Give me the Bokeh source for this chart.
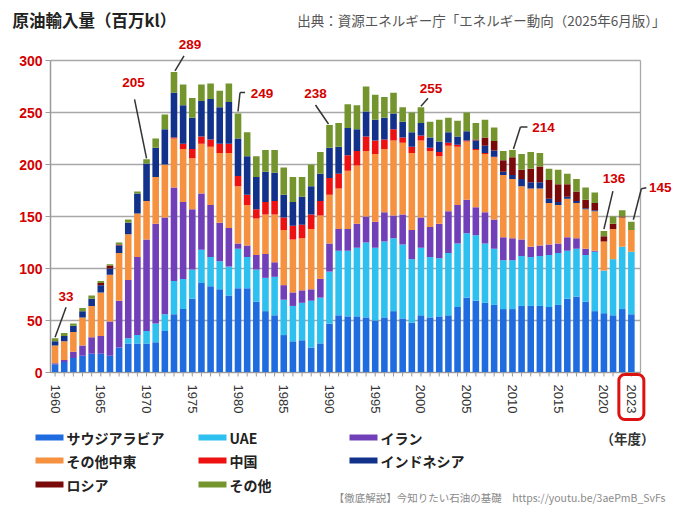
import math
from bokeh.plotting import figure
from bokeh.models import Range1d, Label, Arrow, BoxAnnotation, ColumnDataSource
from bokeh.core.properties import value
from bokeh.embed import file_html
from bokeh.resources import INLINE

# ---------------- data ----------------
years = list(range(1960, 2024))

saudi = [8, 10, 14, 16, 18, 18, 16, 24, 28, 28,
         28, 29, 40, 56, 61, 71, 86, 83, 80, 74,
         81, 81, 68, 59, 55, 36, 30, 31, 24, 28,
         47, 55, 54, 54, 53, 50, 53, 59, 52, 48,
         55, 53, 54, 55, 63, 72, 69, 67, 65, 61,
         61, 64, 64, 64, 63, 65, 71, 73, 68, 59,
         57, 55, 61, 56]
uae = [0, 0, 0, 0, 0, 0, 0, 0, 5, 8,
       12, 18, 16, 32, 29, 28, 32, 28, 27, 28,
       38, 30, 31, 32, 37, 34, 34, 36, 45, 44,
       50, 62, 63, 66, 72, 70, 73, 70, 71, 61,
       65, 58, 56, 60, 61, 62, 63, 57, 54, 47,
       47, 48, 47, 48, 50, 50, 46, 46, 45, 57,
       41, 54, 60, 60]
iran = [1, 2, 6, 10, 16, 17, 33, 45, 56, 75,
        88, 96, 93, 90, 74, 58, 54, 50, 37, 37,
        5, 11, 14, 23, 14, 14, 13, 12, 11, 18,
        27, 21, 21, 23, 25, 25, 28, 22, 29, 28,
        29, 29, 33, 40, 37, 32, 27, 30, 28, 22,
        21, 16, 10, 10, 10, 9, 13, 10, 6, 1,
        0, 0, 0, 0]
other_me = [17, 18, 19, 27, 30, 42, 45, 46, 44, 42,
            37, 45, 51, 47, 51, 49, 48, 56, 67, 72,
            55, 39, 35, 38, 46, 53, 51, 50, 58, 61,
            47, 39, 56, 56, 63, 65, 61, 72, 69, 74,
            74, 73, 65, 63, 56, 56, 55, 56, 60, 60,
            57, 51, 56, 55, 40, 37, 37, 34, 38, 38,
            28, 29, 28, 21]
china = [0, 0, 0, 0, 0, 0, 0, 0, 0, 0,
         0, 0, 0, 1, 5, 9, 7, 7, 9, 9,
         10, 10, 9, 12, 13, 12, 13, 13, 14, 14,
         16, 14, 15, 14, 14, 13, 9, 11, 5, 6,
         5, 3, 4, 3, 2, 1, 1, 1, 0.5, 0,
         0, 0, 0, 0, 0, 0, 0, 0, 0, 0,
         0, 0, 0, 0]
indonesia = [4, 5, 6, 6, 7, 7, 6, 7, 11, 19,
             36, 28, 34, 43, 37, 30, 34, 39, 35, 40,
             36, 37, 31, 29, 27, 22, 23, 27, 27, 26,
             29, 26, 26, 21, 24, 20, 21, 15, 15, 14,
             12, 10, 10, 10, 8, 9, 8, 7, 6, 3,
             4, 7, 6, 6, 4, 3, 2, 2, 1, 1,
             0, 0, 0, 0]
russia = [0, 0, 0, 0, 0, 2, 3, 1, 0, 0,
          0, 0, 0, 0, 0, 0, 0, 0, 0, 0,
          0, 0, 0, 0, 0, 0, 0, 0, 0, 0,
          0, 0, 0, 0, 0, 0, 0, 0, 0, 0,
          0, 0, 0, 0, 0, 0, 1, 8, 9, 11,
          17, 9, 13, 15, 18, 17, 12, 9, 8, 7,
          5, 5, 1, 0]
others = [3, 3, 2, 3, 3, 2, 1, 2, 3, 2,
          4, 9, 14, 20, 20, 19, 16, 15, 16, 18,
          24, 23, 20, 21, 22, 26, 24, 19, 21, 21,
          22, 23, 23, 23, 24, 24, 20, 20, 14, 19,
          15, 15, 21, 14, 15, 18, 16, 17, 13, 9,
          7, 15, 16, 13, 11, 14, 10, 12, 12, 10,
          5, 7, 6, 8]

series_keys = ["saudi", "uae", "iran", "other_me", "china", "indonesia", "russia", "others"]
series_names = ["サウジアラビア", "UAE", "イラン", "その他中東", "中国", "インドネシア", "ロシア", "その他"]
series_colors = ["#1f6ce0", "#2ec0ee", "#7140b9", "#f6923f", "#ee1111", "#11318a", "#7a0a0a", "#74952e"]

label_years = [1960, 1965, 1970, 1975, 1980, 1985, 1990, 1995, 2000, 2005, 2010, 2015, 2020, 2023]
y_ticks = [0, 50, 100, 150, 200, 250, 300]
annotated_years = [1960, 1970, 1973, 1980, 1990, 2000, 2010, 2020, 2023]

title_text = "原油輸入量（百万kl）"
source_text = "出典：資源エネルギー庁「エネルギー動向（2025年6月版）」"
unit_text = "（年度）"
footer_text = "【徹底解説】今知りたい石油の基礎　https://youtu.be/3aePmB_SvFs"

# ---------------- layout helpers (page px -> data) ----------------
JP = "Noto Sans CJK JP"
NUM = "Liberation Sans"
RED = "#d40000"
AXIS = "#9a9a9a"
X0, X1 = 1959.5, 2024.0           # plotting area in data units
Y0, Y1 = 0, 300
FRAME_L, FRAME_R, FRAME_T, FRAME_B = 50, 640, 60, 372   # page px of plotting area
S = (FRAME_R - FRAME_L) / (X1 - X0)          # px per year
UY = (FRAME_B - FRAME_T) / (Y1 - Y0)         # px per unit
CW, CH = 672, 505


def X(px):
    return X0 + (px - FRAME_L) / S


def Y(py):
    return (FRAME_B - py) / UY


data = dict(year=years, saudi=saudi, uae=uae, iran=iran, other_me=other_me,
            china=china, indonesia=indonesia, russia=russia, others=others)
src = ColumnDataSource(data)
totals = [sum(data[k][i] for k in series_keys) for i in range(len(years))]

# the frame covers the whole canvas
p = figure(width=CW, height=CH, x_range=Range1d(X(0), X(CW)), y_range=Range1d(Y(CH), Y(0)),
           output_backend="svg", toolbar_location=None, min_border=0,
           x_axis_location=None, y_axis_location=None)
p.background_fill_color = "white"
p.border_fill_color = "white"
p.outline_line_color = None
p.grid.visible = False

# grid lines
p.segment(x0=[X0] * len(y_ticks), x1=[X1] * len(y_ticks), y0=y_ticks, y1=y_ticks,
          line_color="#a8a8a8", line_width=1.3)
# right border
p.segment(x0=[X1], x1=[X1], y0=[Y0], y1=[Y1], line_color="#a8a8a8", line_width=1.3)

# bars
p.vbar_stack(series_keys, x="year", width=0.72, color=series_colors, line_color=None,
             source=src)

# y axis
p.segment(x0=[X0], x1=[X0], y0=[Y0], y1=[Y1], line_color=AXIS, line_width=1.5)
p.segment(x0=[X0 - 5 / S] * len(y_ticks), x1=[X0] * len(y_ticks), y0=y_ticks, y1=y_ticks,
          line_color=AXIS, line_width=1.2)
p.text(x=[X0 - 8 / S] * len(y_ticks), y=y_ticks, text=[str(t) for t in y_ticks],
       text_align="right", text_baseline="middle", text_color=RED,
       text_font=value(NUM), text_font_style="bold", text_font_size="14px")

# x axis
p.segment(x0=[X0], x1=[X1], y0=[Y0], y1=[Y0], line_color=AXIS, line_width=1.2)
p.segment(x0=years, x1=years, y0=[Y0] * len(years), y1=[Y0 - 4 / UY] * len(years),
          line_color=AXIS, line_width=1)
p.text(x=label_years, y=[Y0 - 12 / UY] * len(label_years), text=[str(y) for y in label_years],
       angle=-math.pi / 2, text_align="left", text_baseline="middle", text_color="#333333",
       text_font=value(NUM), text_font_size="13px")

# red box around the last year label
last = years[-1]
p.add_layout(BoxAnnotation(left=last - 12.5 / S, right=last + 12.5 / S,
                           top=Y(374), bottom=Y(419), fill_alpha=0,
                           line_color="#dd1111", line_alpha=1, line_width=3, border_radius=6))

# title / source / footer / unit
p.add_layout(Label(x=X(12), y=Y(19), text=title_text, text_font=JP,
                   text_font_style="bold", text_font_size="16.5px", text_color="#222222",
                   text_align="left", text_baseline="middle"))
p.add_layout(Label(x=X(665), y=Y(19), text=source_text, text_font=JP,
                   text_font_size="13.5px", text_color="#555555",
                   text_align="right", text_baseline="middle"))
p.add_layout(Label(x=X(665), y=Y(497), text=footer_text, text_font=JP,
                   text_font_size="10.5px", text_color="#8a8a8a",
                   text_align="right", text_baseline="middle"))
p.add_layout(Label(x=X(627), y=Y(437), text=unit_text, text_font=JP,
                   text_font_size="13.5px", text_color="#333333", text_font_style="bold",
                   text_align="center", text_baseline="middle"))

# legend
col_x = [35, 198, 349]
row_y = [437, 460, 484]
for i, (name, color) in enumerate(zip(series_names, series_colors)):
    cx = col_x[i % 3]
    ry = row_y[i // 3]
    p.add_layout(BoxAnnotation(left=X(cx), right=X(cx + 28), top=Y(ry - 3), bottom=Y(ry + 3),
                               fill_color=color, fill_alpha=1, line_color=None))
    p.add_layout(Label(x=X(cx + 31), y=Y(ry), text=name, text_font=JP,
                       text_font_size="14px", text_font_style="bold", text_color="#222222",
                       text_align="left", text_baseline="middle"))

# total annotations with leader lines (offsets in px from bar top: right, up)
ann_layout = {
    1960: ((11, 42), [(11, 31), (0, 1)]),
    1970: ((-13, 77), [(-12, 60), (0, 1)]),
    1973: ((16, 27), [(10, 16), (1, 1)]),
    1980: ((24, 20), [(7, 21), (2, 21), (0, 2)]),
    1990: ((-14, 31), [(-14, 20), (-1, 1)]),
    2000: ((10, 19), [(7, 9), (0, 1)]),
    2010: ((31, 22), [(15, 23), (8, 23), (1, 1)]),
    2020: ((10, 53), [(9, 40), (0, 2)]),
    2023: ((29, 34), [(15, 34), (10, 33), (2, 2)]),
}
for yr in annotated_years:
    tot = totals[years.index(yr)]
    (ldx, ldy), pts = ann_layout[yr]
    p.add_layout(Label(x=yr + ldx / S, y=tot + ldy / UY, text=f"{tot:.0f}",
                       text_font=NUM, text_font_style="bold", text_font_size="13.5px",
                       text_color=RED, text_align="center", text_baseline="middle"))
    for (ax, ay), (bx, by) in zip(pts[:-1], pts[1:]):
        p.add_layout(Arrow(x_start=yr + ax / S, y_start=tot + ay / UY,
                           x_end=yr + bx / S, y_end=tot + by / UY, end=None,
                           line_color="#333333", line_width=1.5))

open("out.html", "w", encoding="utf-8").write(file_html(p, INLINE))
